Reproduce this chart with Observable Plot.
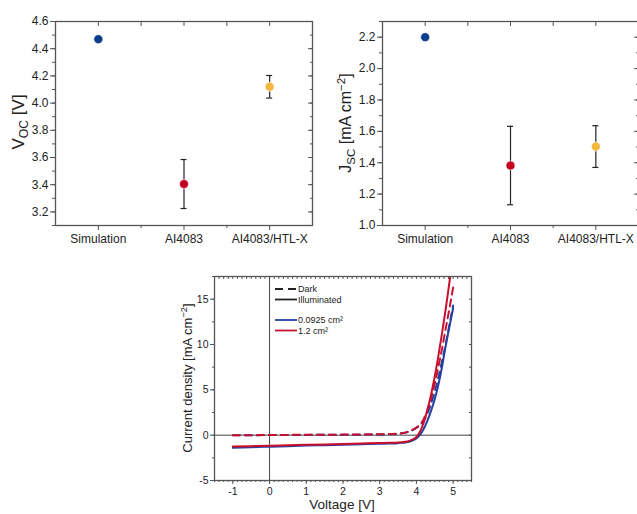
<!DOCTYPE html>
<html><head><meta charset="utf-8">
<script src="https://cdn.jsdelivr.net/npm/d3@7"></script>
<script src="https://cdn.jsdelivr.net/npm/@observablehq/plot@0.6"></script>
<style>
body{margin:0;background:#fff;font-family:"Liberation Sans",Arial,sans-serif;}
#wrap{position:relative;width:637px;height:514px;overflow:hidden;background:#fff;}
.panel{position:absolute;}
</style></head><body><div id="wrap"></div>
<script>
// ---- data ----
const categories = ["Simulation", "AI4083", "AI4083/HTL-X"];
const pointColors = ["#0b3d8c", "#c4001f", "#f3b73e"];
const vocValues = [4.47, 3.405, 4.12];
const vocErrors = [null, 0.18, 0.083];
const jscValues = [2.20, 1.382, 1.503];
const jscErrors = [null, 0.25, 0.133];
const vocTicks = [3.2, 3.4, 3.6, 3.8, 4.0, 4.2, 4.4, 4.6];
const jscTicks = [1.0, 1.2, 1.4, 1.6, 1.8, 2.0, 2.2];

const voltage     = [-1, -0.5, 0, 0.5, 1, 1.5, 2, 2.5, 3, 3.25, 3.5, 3.6, 3.7, 3.8, 3.9, 4.0, 4.1, 4.2, 4.3, 4.4, 4.5, 4.6, 4.7, 4.8, 4.9, 5.0];
const jIllumSmall = [-1.40, -1.33, -1.27, -1.21, -1.15, -1.10, -1.05, -1.00, -0.95, -0.92, -0.88, -0.85, -0.80, -0.72, -0.58, -0.35, 0.05, 0.70, 1.60, 2.70, 4.00, 5.60, 7.60, 9.90, 12.00, 14.00];
const jIllumLarge = [-1.25, -1.21, -1.17, -1.12, -1.07, -1.02, -0.97, -0.92, -0.87, -0.84, -0.80, -0.77, -0.72, -0.63, -0.47, -0.20, 0.40, 1.40, 2.80, 4.50, 6.50, 8.80, 11.30, 14.00, 16.90, 19.80];
const jDarkSmall  = [0.00, 0.00, 0.01, 0.02, 0.03, 0.04, 0.05, 0.06, 0.08, 0.10, 0.15, 0.20, 0.28, 0.38, 0.55, 0.80, 1.10, 1.60, 2.40, 3.50, 4.80, 6.40, 8.20, 10.10, 12.20, 14.30];
const jDarkLarge  = [0.00, 0.00, 0.02, 0.03, 0.04, 0.05, 0.06, 0.08, 0.10, 0.12, 0.18, 0.22, 0.30, 0.42, 0.60, 0.85, 1.20, 1.80, 2.80, 4.10, 5.70, 7.60, 9.60, 11.80, 14.00, 16.30];
const ivTicksX = [-1, 0, 1, 2, 3, 4, 5];
const ivTicksY = [-5, 0, 5, 10, 15];
const sizeBlue = "#2441a0";
const sizeRed = "#c8102e";

const wrap = document.getElementById("wrap");
const axisColor = "#555";
const font = "Liberation Sans, Arial, sans-serif";

function addTitle(svg, x, y, parts, size) {
  const t = d3.select(svg).append("text")
    .attr("transform", `translate(${x},${y}) rotate(-90)`)
    .attr("text-anchor", "middle")
    .attr("font-family", font)
    .attr("font-size", size)
    .attr("fill", "#222");
  for (const [s, kind] of parts) {
    const ts = t.append("tspan").text(s);
    if (kind === "sub") ts.attr("font-size", size * 0.72).attr("dy", size * 0.25);
    else if (kind === "sup") ts.attr("font-size", size * 0.72).attr("dy", -size * 0.4);
    else if (kind === "back") ts.attr("dy", 0);
  }
  return t;
}

function topPanel({values, errors, domain, ticks, left, width, marginLeft, marginRight}) {
  const data = categories.map((c, i) => ({i, c, v: values[i], e: errors[i], color: pointColors[i]}));
  const errs = data.filter(d => d.e != null);
  const minor = d3.range(Math.round(domain[0] * 10), Math.round(domain[1] * 10) + 1).map(v => v / 10);
  const plot = Plot.plot({
    width, height: 250,
    marginLeft, marginRight, marginTop: 21, marginBottom: 25,
    style: {fontFamily: font, fontSize: "12px", color: "#222", background: "transparent"},
    x: {type: "linear", domain: [-0.5, 2.5]},
    y: {domain},
    marks: [
      Plot.axisY({ticks: minor, tickSize: 3, text: null, label: null, stroke: axisColor}),
      Plot.axisY({ticks, tickSize: 5, tickPadding: 2, tickFormat: d => d.toFixed(1), label: null, stroke: axisColor, fontSize: 12}),
      Plot.axisY({anchor: "right", ticks: minor, tickSize: -3, text: null, label: null, stroke: axisColor}),
      Plot.axisY({anchor: "right", ticks, tickSize: -5, text: null, label: null, stroke: axisColor}),
      Plot.axisX({ticks: [0.5, 1.5], tickSize: 3, text: null, label: null, stroke: axisColor}),
      Plot.axisX({ticks: [0, 1, 2], tickSize: 5, tickPadding: 4, tickFormat: i => categories[i], label: null, stroke: axisColor, fontSize: 12}),
      Plot.axisX({anchor: "top", ticks: [0, 0.5, 1, 1.5, 2], tickSize: -4, text: null, label: null, stroke: axisColor}),
      Plot.frame({stroke: axisColor, strokeWidth: 1.3}),
      Plot.ruleX(errs, {x: "i", y1: d => d.v - d.e, y2: d => d.v + d.e, stroke: "#222", strokeWidth: 1.2}),
      Plot.ruleY(errs, {x1: "i", x2: "i", y: d => d.v + d.e, insetLeft: -3, insetRight: -3, stroke: "#222", strokeWidth: 1.2}),
      Plot.ruleY(errs, {x1: "i", x2: "i", y: d => d.v - d.e, insetLeft: -3, insetRight: -3, stroke: "#222", strokeWidth: 1.2}),
      Plot.dot(data, {x: "i", y: "v", r: 4.5, fill: "color", stroke: "white", strokeWidth: 0.6})
    ]
  });
  plot.classList.add("panel");
  plot.style.left = left + "px";
  plot.style.top = "0px";
  wrap.appendChild(plot);
  return plot;
}

const p1 = topPanel({values: vocValues, errors: vocErrors, domain: [3.1, 4.6], ticks: vocTicks, left: 0, width: 320, marginLeft: 55, marginRight: 8});
addTitle(p1, 24, 122, [["V", ""], ["OC", "sub"], [" [V]", "back"]], 17);
// fix baseline after subscript
d3.select(p1).selectAll("text tspan:nth-child(3)").attr("dy", -17 * 0.25);

const p2 = topPanel({values: jscValues, errors: jscErrors, domain: [1.0, 2.3], ticks: jscTicks, left: 320, width: 320, marginLeft: 62, marginRight: 2});
const t2 = addTitle(p2, 31, 123, [["J", ""], ["SC", "sub"], [" [mA cm", "back"], ["−2", "sup"], ["]", "back"]], 16);
t2.selectAll("tspan").each(function(d, i) {
  const s = d3.select(this);
  if (i === 2) s.attr("dy", -16 * 0.25);
  if (i === 4) s.attr("dy", 16 * 0.4);
});

// ---- bottom IV panel ----
const rows = voltage.map((v, i) => ({v, ds: jDarkSmall[i], dl: jDarkLarge[i], is: jIllumSmall[i], il: jIllumLarge[i]}));
const minorX = d3.range(-12, 45).map(k => k / 8);
const minorY = d3.range(-2, 8).map(k => k * 2.5);
const p3 = Plot.plot({
  width: 637, height: 264,
  marginLeft: 214, marginRight: 166, marginTop: 26, marginBottom: 34,
  style: {fontFamily: font, fontSize: "10px", color: "#222", background: "transparent"},
  x: {domain: [-1.5, 5.5]},
  y: {domain: [-5, 17.5]},
  marks: [
    Plot.axisY({ticks: minorY, tickSize: 2, text: null, label: null, stroke: axisColor}),
    Plot.axisY({ticks: ivTicksY, tickSize: 4, tickPadding: 2, tickFormat: d => String(d), label: null, stroke: axisColor, fontSize: 10.5}),
    Plot.axisY({anchor: "right", ticks: minorY, tickSize: -3, text: null, label: null, stroke: axisColor}),
    Plot.axisX({ticks: minorX, tickSize: 2, text: null, label: null, stroke: axisColor}),
    Plot.axisX({ticks: ivTicksX, tickSize: 4, tickPadding: 3, tickFormat: d => String(d), label: null, stroke: axisColor, fontSize: 10.5}),
    Plot.axisX({anchor: "top", ticks: minorX, tickSize: -2, text: null, label: null, stroke: axisColor}),
    Plot.ruleY([0], {stroke: "#444", strokeWidth: 1}),
    Plot.ruleX([0], {stroke: "#444", strokeWidth: 1}),
    Plot.line(rows, {x: "v", y: "ds", stroke: sizeBlue, strokeWidth: 2, strokeDasharray: "7,5", curve: "monotone-x", clip: true}),
    Plot.line(rows, {x: "v", y: "is", stroke: sizeBlue, strokeWidth: 2, curve: "monotone-x", clip: true}),
    Plot.line(rows, {x: "v", y: "dl", stroke: sizeRed, strokeWidth: 2, strokeDasharray: "7,5", curve: "monotone-x", clip: true}),
    Plot.line(rows, {x: "v", y: "il", stroke: sizeRed, strokeWidth: 2, curve: "monotone-x", clip: true}),
    Plot.frame({stroke: axisColor, strokeWidth: 1.3})
  ]
});
p3.classList.add("panel");
p3.style.left = "0px";
p3.style.top = "250px";
wrap.appendChild(p3);
const t3 = addTitle(p3, 192, 128, [["Current density [mA cm", ""], ["−2", "sup"], ["]", "back"]], 13);
t3.selectAll("tspan").each(function(d, i) { if (i === 2) d3.select(this).attr("dy", 13 * 0.4); });
d3.select(p3).append("text").attr("x", 342).attr("y", 259).attr("text-anchor", "middle")
  .attr("font-family", font).attr("font-size", 13.5).attr("fill", "#222").text("Voltage [V]");

// legend
const legendItems = [
  {label: "Dark", color: "#222", dash: "8,5", y: 289},
  {label: "Illuminated", color: "#222", dash: null, y: 299.5},
  {label: "0.0925 cm²", color: sizeBlue, dash: null, y: 320},
  {label: "1.2 cm²", color: sizeRed, dash: null, y: 330.5}
];
const lg = d3.select(wrap).append("svg").attr("class", "panel").attr("width", 637).attr("height", 514)
  .style("left", "0px").style("top", "0px").style("pointer-events", "none");
for (const it of legendItems) {
  lg.append("line").attr("x1", 275).attr("x2", 297).attr("y1", it.y).attr("y2", it.y)
    .attr("stroke", it.color).attr("stroke-width", 1.8).attr("stroke-dasharray", it.dash);
  lg.append("text").attr("x", 298).attr("y", it.y + 3.2).attr("font-family", font).attr("font-size", 9)
    .attr("fill", "#222").text(it.label);
}
</script></body></html>
